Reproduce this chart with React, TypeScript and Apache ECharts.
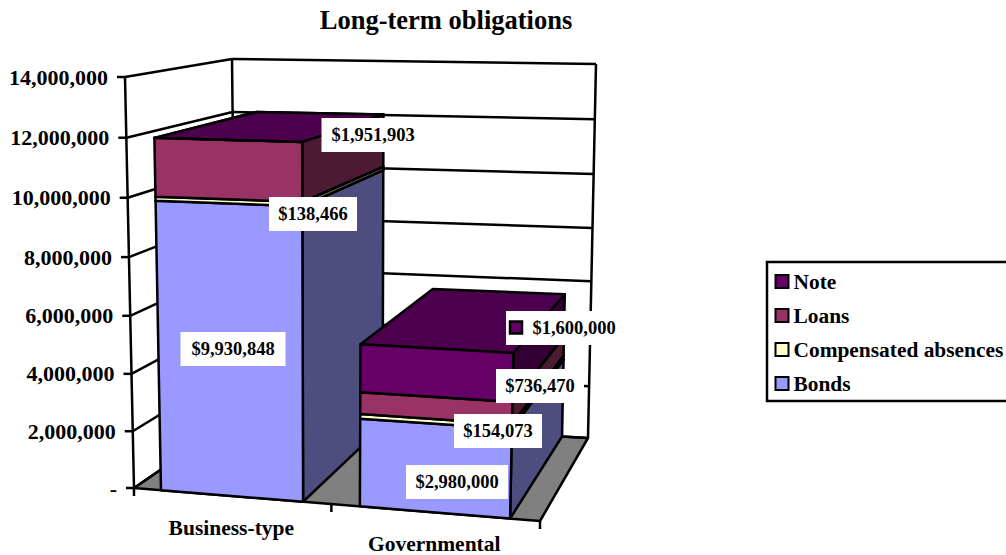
import React, { useEffect, useRef } from "react";
import * as echarts from "echarts";

const CATEGORIES = ["Business-type", "Governmental"];
const BONDS = [9930848, 2980000];
const ABSENCES = [138466, 154073];
const LOANS = [1951903, 736470];
const NOTE = [0, 1600000];
const TICK_VALUES = [0, 2000000, 4000000, 6000000, 8000000, 10000000, 12000000, 14000000];
const TICK_LABELS = ["-", "2,000,000", "4,000,000", "6,000,000", "8,000,000", "10,000,000", "12,000,000", "14,000,000"];
const TITLE = "Long-term obligations";

const FONT = '"Liberation Serif"';
const GRID = { left: 134, top: 77, width: 406, height: 411 };
// screen corners of the 3D box, F/B front/back, L/R, B/T bottom/top
const FLB = [134, 488], FLT = [125, 77], FRB = [540, 521], FRT = [550, 85];
const BLB = [236, 418], BLT = [232, 59], BRB = [588, 438], BRT = [596, 64];
const K_U = 0.057, K_V = 0.04;
const BAR_BAND = 0.72;

const warp = (t: number, k: number) => t / (1 + k * (1 - t));
const mix = (a: number[], b: number[], t: number) => [a[0] + (b[0] - a[0]) * t, a[1] + (b[1] - a[1]) * t];
function project(u: number, v: number, w: number) {
  const uu = warp(u, K_U), vv = warp(v, K_V);
  const fb = mix(FLB, FRB, uu), ft = mix(FLT, FRT, uu), bb = mix(BLB, BRB, uu), bt = mix(BLT, BRT, uu);
  return mix(mix(fb, ft, vv), mix(bb, bt, vv), w);
}
const normU = (px: number) => (px - GRID.left) / GRID.width;
const normV = (py: number) => (GRID.top + GRID.height - py) / GRID.height;
const EDGE = { stroke: "#000", lineWidth: 2.5, lineJoin: "round" };
const poly = (points: number[][], fill: string) => ({
  type: "polygon", shape: { points }, style: { fill, ...EDGE },
});
const line = (a: number[], b: number[]) => ({
  type: "line", shape: { x1: a[0], y1: a[1], x2: b[0], y2: b[1] }, style: { stroke: "#000", lineWidth: 2.5 },
});
const text = (s: string, x: number, y: number, align: string, size: number) => ({
  type: "text", z2: 5,
  style: { text: s, x, y, align, verticalAlign: "middle", fill: "#000", font: `bold ${size}px ${FONT}` },
});

const base = (i: number, arrs: number[][]) => arrs.reduce((s, a) => s + a[i], 0);

function stackSeries(name: string, values: number[], below: number[][], front: string, side: string, top: string) {
  return {
    type: "custom", name, z: 3, silent: true,
    itemStyle: { color: front, borderColor: "#000", borderWidth: 2 },
    data: values.map((val, i) => [i, base(i, below), base(i, below) + val]),
    renderItem: (_: any, api: any) => {
      const c = api.coord([api.value(0), 0]);
      const half = (api.size([1, 0])[0] * BAR_BAND) / 2 / GRID.width;
      const u = normU(c[0]);
      const b = normV(api.coord([0, api.value(1)])[1]);
      const t = normV(api.coord([0, api.value(2)])[1]);
      const u0 = u - half, u1 = u + half;
      const P = (x: number, y: number, z: number) => project(x, y, z);
      return {
        type: "group",
        children: [
          poly([P(u1, b, 0), P(u1, b, 1), P(u1, t, 1), P(u1, t, 0)], side),
          poly([P(u0, t, 0), P(u1, t, 0), P(u1, t, 1), P(u0, t, 1)], top),
          poly([P(u0, b, 0), P(u1, b, 0), P(u1, t, 0), P(u0, t, 0)], front),
        ],
      };
    },
  };
}

const money = (v: number) => "$" + v.toLocaleString("en-US");
const LABEL_VALUES = [BONDS[0], ABSENCES[0], LOANS[0], BONDS[1], ABSENCES[1], LOANS[1], NOTE[1]];
// centre x, centre y, box width, box height, with legend key
const LABEL_LAYOUT = [
  [233, 349, 105, 34, 0],
  [313, 214, 88, 34, 0],
  [373, 135, 103, 34, 0],
  [457, 482, 102, 34, 0],
  [498, 431, 88, 34, 0],
  [540, 386, 88, 34, 0],
  [563, 328, 114, 34, 1],
];

export default function App() {
  const ref = useRef<HTMLDivElement>(null);
  useEffect(() => {
    document.body.style.margin = "0";
    const chart = echarts.init(ref.current!, undefined, { renderer: "svg" });
    const walls = {
      type: "custom", z: 1, silent: true,
      data: TICK_VALUES.map((v) => [v]),
      renderItem: (params: any, api: any) => {
        const v = normV(api.coord([0, api.value(0)])[1]);
        const a = project(0, v, 0), b = project(0, v, 1), c = project(1, v, 1);
        const children: any[] = [line(a, b), line(b, c), line([a[0] - 8, a[1]], a)];
        if (params.dataIndex === 0) {
          children.unshift(poly([project(0, 0, 0), project(1, 0, 0), project(1, 0, 1), project(0, 0, 1)], "#808080"));
          children.push(line(project(0, 0, 0), project(0, 1, 0)));
          children.push(line(project(0, 0, 1), project(0, 1, 1)));
          children.push(line(project(1, 0, 1), project(1, 1, 1)));
          [0, 0.5, 1].forEach((u) => {
            const p = project(u, 0, 0);
            children.push(line(p, [p[0], p[1] + 8]));
          });
        }
        children.push(text(TICK_LABELS[params.dataIndex], a[0] - 17, a[1], "right", 22));
        return { type: "group", children };
      },
    };
    const categoryLabels = {
      type: "custom", z: 4, silent: true,
      data: CATEGORIES.map((_, i) => [i]),
      renderItem: (params: any, api: any) => {
        const c = api.coord([api.value(0), 0]);
        const p = project(normU(c[0]), 0, 0);
        return text(CATEGORIES[params.dataIndex], p[0], p[1] + 32, "center", 21.5);
      },
    };
    const dataLabels = {
      type: "custom", z: 10, silent: true,
      data: LABEL_VALUES.map((v) => [v]),
      renderItem: (params: any, api: any) => {
        const [cx, cy, w, h, key] = LABEL_LAYOUT[params.dataIndex];
        const s = money(api.value(0));
        const children: any[] = [
          { type: "rect", shape: { x: cx - w / 2, y: cy - h / 2, width: w, height: h }, style: { fill: "#fff" } },
        ];
        if (key) {
          children.push({
            type: "rect", shape: { x: cx - w / 2 + 4, y: cy - 6.5, width: 12, height: 12 },
            style: { fill: "#660066", stroke: "#000", lineWidth: 2.5 },
          });
          children.push(text(s, cx + 11, cy, "center", 18.5));
        } else {
          children.push(text(s, cx, cy, "center", 18.5));
        }
        return { type: "group", children };
      },
    };
    chart.setOption({
      animation: false,
      backgroundColor: "#fff",
      title: {
        text: TITLE, left: 441, top: 1, textAlign: "center",
        textStyle: { fontFamily: FONT, fontSize: 26.5, fontWeight: "bold", color: "#000" },
      },
      grid: GRID,
      xAxis: { type: "category", data: CATEGORIES, show: false },
      yAxis: { type: "value", min: 0, max: 14000000, interval: 2000000, show: false },
      legend: {
        orient: "vertical", left: 767, top: 262, itemWidth: 13, itemHeight: 13, itemGap: 13,
        padding: [9, 30, 7, 7.5], backgroundColor: "#fff", borderColor: "#000", borderWidth: 2.5,
        borderRadius: 0,
        textStyle: { fontFamily: FONT, fontSize: 21.4, fontWeight: "bold", color: "#000" },
        selectedMode: false, icon: "rect",
        data: ["Note", "Loans", "Compensated absences", "Bonds"],
      },
      series: [
        walls,
        stackSeries("Bonds", BONDS, [], "#9999FF", "#4D4D80", "#7373BF"),
        stackSeries("Compensated absences", ABSENCES, [BONDS], "#FFFFCC", "#808066", "#BFBF99"),
        stackSeries("Loans", LOANS, [BONDS, ABSENCES], "#993366", "#4D1A33", "#732650"),
        stackSeries("Note", NOTE, [BONDS, ABSENCES, LOANS], "#660066", "#330033", "#4D004D"),
        categoryLabels,
        dataLabels,
      ],
    });
    return () => chart.dispose();
  }, []);
  return <div ref={ref} style={{ width: 1006, height: 555 }} />;
}
